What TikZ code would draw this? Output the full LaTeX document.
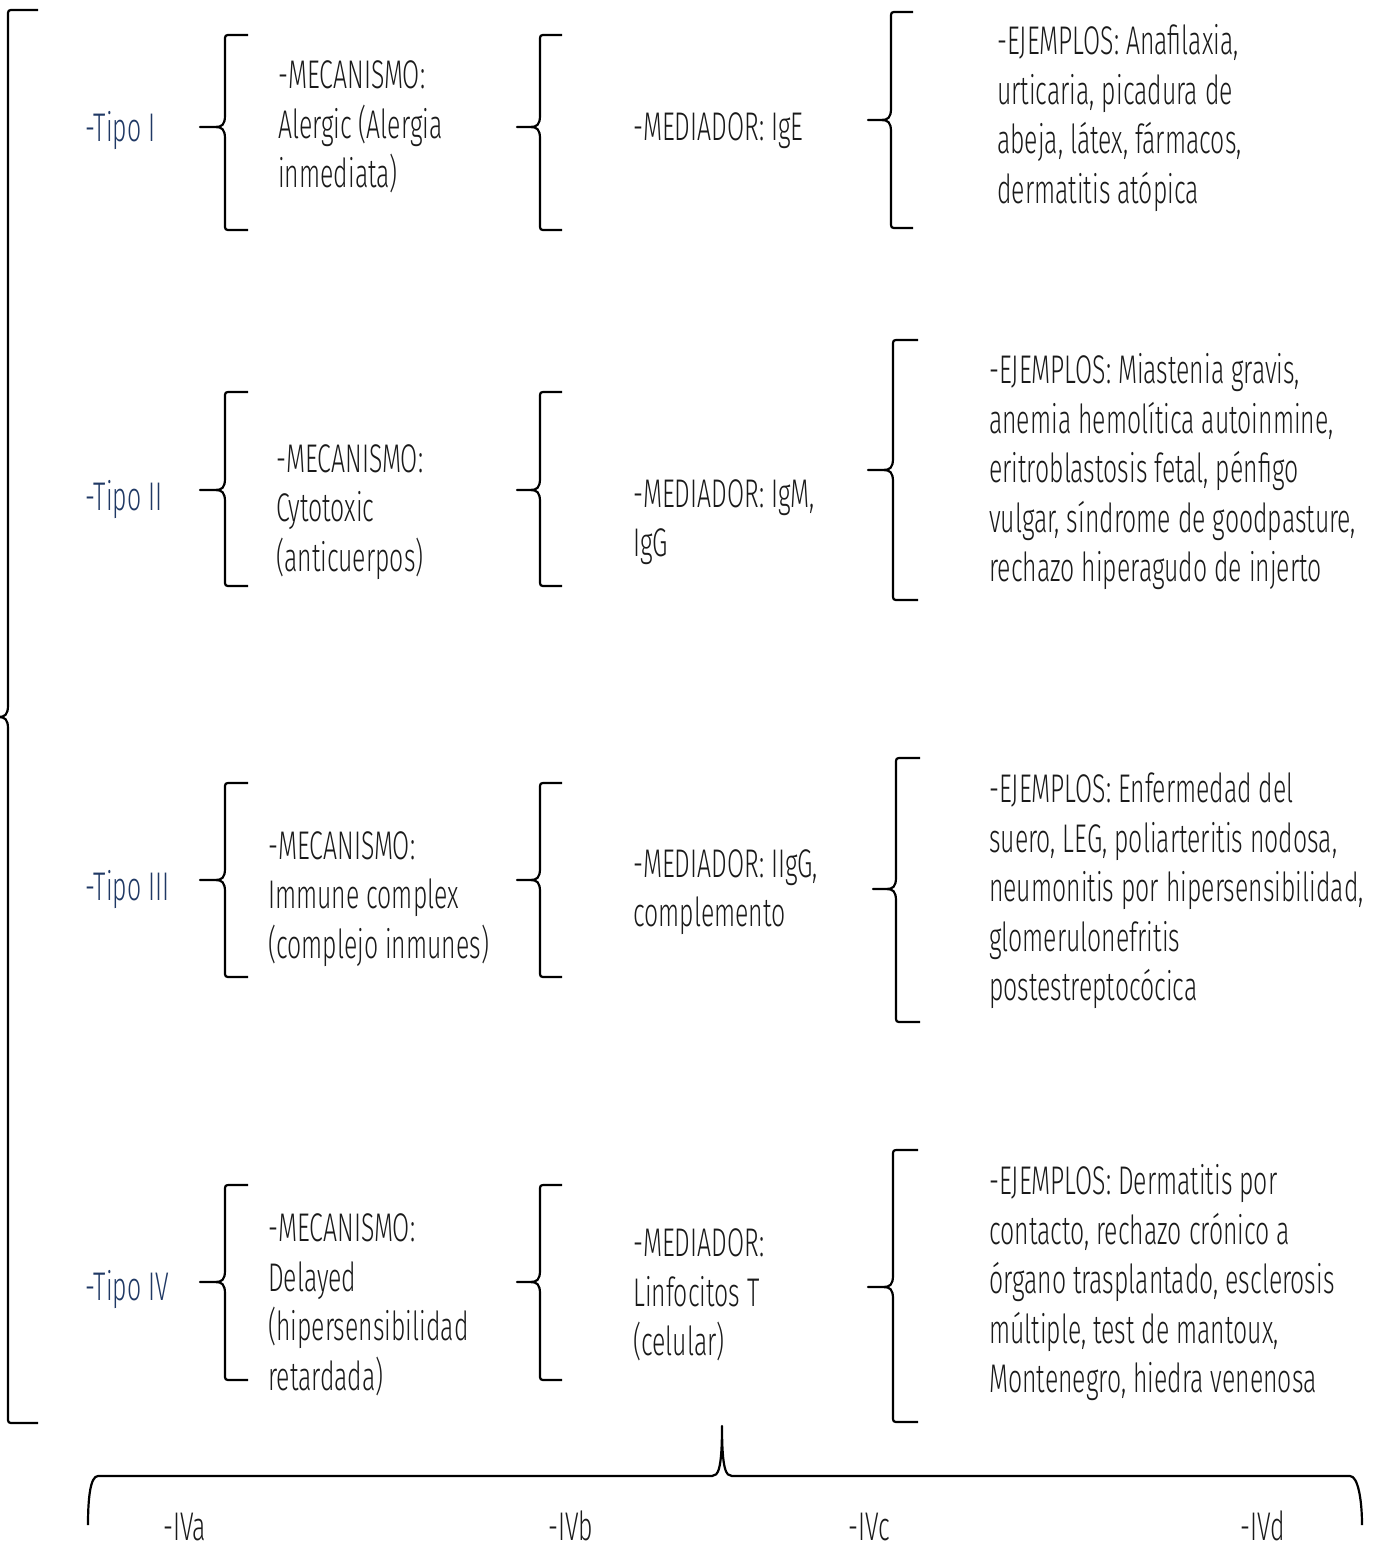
\documentclass[tikz,border=0pt]{standalone}
\usepackage{fontspec}
\setmainfont{Fira Sans}[UprightFont=* Light, FakeStretch=0.62]
\definecolor{tipoblue}{HTML}{1F3864}
\definecolor{ink}{HTML}{1A1A1A}
\newcommand\mybrace[6]{%
  \draw[braceline] (#6,#2) -- ({#1+6},#2) .. controls (#1,#2) .. (#1,{#2+6})
    -- (#1,{#4-12}) .. controls (#1,{#4-2}) and ({#1-3},#4) .. ({#1-10},#4) -- (#5,#4)
    -- ({#1-10},#4) .. controls ({#1-3},#4) and (#1,{#4+2}) .. (#1,{#4+12})
    -- (#1,{#3-6}) .. controls (#1,#3) .. ({#1+6},#3) -- (#6,#3);}
\begin{document}
\begin{tikzpicture}[x=1pt,y=-1pt,
  braceline/.style={line width=2.2pt, draw=black, line join=round},
  txt/.style={anchor=west, inner sep=0pt, align=left, text=ink,
    font=\fontsize{40}{49.5}\selectfont},
  tipo/.style={txt, text=tipoblue},
  sub/.style={anchor=base west, inner sep=0pt, text=ink,
    font=\fontsize{40}{49.5}\selectfont}]
\useasboundingbox (0,0) rectangle (1388,1553);
% big left brace
\mybrace{8}{10}{1423}{717}{0}{38}
% Tipo I
\node[tipo] (t1) at (85,131) {-Tipo I};
\mybrace{225}{35}{230}{127}{200}{248}
\node[txt] (m1) at (278,127) {-MECANISMO:\\Alergic (Alergia\\inmediata)};
\mybrace{540}{35}{230}{127}{517}{562}
\node[txt] (d1) at (633,131) {-MEDIADOR: IgE};
\mybrace{891}{12}{228}{120}{868}{913}
\node[txt] (e1) at (997,118) {-EJEMPLOS: Anafilaxia,\\urticaria, picadura de\\abeja, látex, fármacos,\\dermatitis atópica};
% Tipo II
\node[tipo] (t2) at (85,500) {-Tipo II};
\mybrace{225}{392}{586}{490}{200}{248}
\node[txt] (m2) at (276,512) {-MECANISMO:\\Cytotoxic\\(anticuerpos)};
\mybrace{540}{392}{586}{490}{517}{562}
\node[txt] (d2) at (633,522) {-MEDIADOR: IgM,\\IgG};
\mybrace{893}{340}{600}{470}{868}{918}
\node[txt] (e2) at (989,472) {-EJEMPLOS: Miastenia gravis,\\anemia hemolítica autoinmine,\\eritroblastosis fetal, pénfigo\\vulgar, síndrome de goodpasture,\\rechazo hiperagudo de injerto};
% Tipo III
\node[tipo] (t3) at (85,890) {-Tipo III};
\mybrace{225}{783}{977}{880}{200}{248}
\node[txt] (m3) at (268,899) {-MECANISMO:\\Immune complex\\(complejo inmunes)};
\mybrace{540}{783}{977}{880}{517}{562}
\node[txt] (d3) at (633,892) {-MEDIADOR: IIgG,\\complemento};
\mybrace{896}{758}{1022}{889}{873}{920}
\node[txt] (e3) at (989,891) {-EJEMPLOS: Enfermedad del\\suero, LEG, poliarteritis nodosa,\\neumonitis por hipersensibilidad,\\glomerulonefritis\\postestreptocócica};
% Tipo IV
\node[tipo] (t4) at (85,1290) {-Tipo IV};
\mybrace{225}{1185}{1380}{1282}{200}{248}
\node[txt] (m4) at (268,1305) {-MECANISMO:\\Delayed\\(hipersensibilidad\\retardada)};
\mybrace{540}{1185}{1380}{1282}{517}{562}
\node[txt] (d4) at (633,1295) {-MEDIADOR:\\Linfocitos T\\(celular)};
\mybrace{893}{1150}{1422}{1287}{868}{918}
\node[txt] (e4) at (989,1283) {-EJEMPLOS: Dermatitis por\\contacto, rechazo crónico a\\órgano trasplantado, esclerosis\\múltiple, test de mantoux,\\Montenegro, hiedra venenosa};
% bottom brace
\draw[braceline] (88,1525) .. controls (88,1500) and (90,1476) .. (98,1476)
  -- (712,1476) .. controls (718,1476) and (722,1470) .. (722,1426)
  .. controls (722,1470) and (726,1476) .. (732,1476)
  -- (1350,1476) .. controls (1358,1476) and (1362,1500) .. (1362,1525);
\node[sub] (a4) at (163,1540) {-IVa};
\node[sub] (b4) at (548,1540) {-IVb};
\node[sub] (c4) at (848,1540) {-IVc};
\node[sub] (d4b) at (1240,1540) {-IVd};
\end{tikzpicture}
\end{document}
